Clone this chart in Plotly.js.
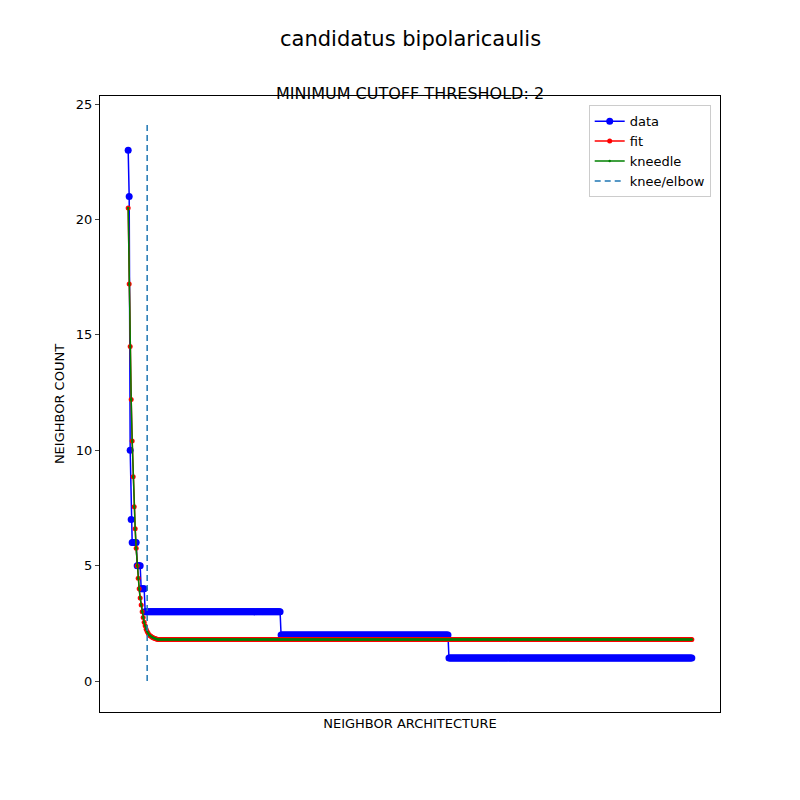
<!DOCTYPE html>
<html>
<head>
<meta charset="utf-8">
<script src="https://cdn.plot.ly/plotly-3.0.1.min.js"></script>
<style>html,body{margin:0;padding:0;background:#fff}#plot{width:800px;height:800px}</style>
</head>
<body>
<div id="plot"></div>
<script>
// ----- data (run-length: value, count) -----
const dataLevels = [23, 21, 10, 7, 6, 5, 4, 3, 2, 1];
const dataCounts = [1, 1, 1, 1, 5, 4, 4, 136, 168, 244];

const fitHead = [20.5, 17.2, 14.5, 12.2, 10.4, 8.85, 7.55, 6.6, 5.75, 5.0,
                 4.45, 4.0, 3.6, 3.3, 3.0, 2.75, 2.55, 2.4, 2.25, 2.15,
                 2.07, 2.0, 1.96, 1.93, 1.9, 1.88, 1.86, 1.84, 1.82, 1.81];
const fitPlateau = 1.8;

const kneeX = 19;
const kneeY = [0, 24.1];

// ----- build series -----
const dataY = [];
dataLevels.forEach((v, i) => { for (let k = 0; k < dataCounts[i]; k++) dataY.push(v); });
const N = dataY.length;
const xs = dataY.map((_, i) => i);
const fitY = fitHead.slice();
while (fitY.length < N) fitY.push(fitPlateau);

const traces = [
  { name: "data", x: xs, y: dataY, mode: "lines+markers",
    line: { color: "#0000ff", width: 1.5 }, marker: { color: "#0000ff", size: 7 } },
  { name: "fit", x: xs, y: fitY, mode: "lines+markers",
    line: { color: "#ff0000", width: 1.5 }, marker: { color: "#ff0000", size: 5 } },
  { name: "kneedle", x: xs, y: fitY, mode: "lines+markers",
    line: { color: "#008000", width: 1.5 }, marker: { color: "#008000", size: 2.5 } },
  { name: "knee/elbow", x: [kneeX, kneeX], y: kneeY, mode: "lines",
    line: { color: "#1f77b4", width: 1.5, dash: "6px,4px" } }
];

const pad = (N - 1) * 0.05;
const layout = {
  width: 800, height: 800,
  margin: { l: 100, r: 80, t: 96, b: 88 },
  paper_bgcolor: "#fff", plot_bgcolor: "#fff",
  font: { family: "DejaVu Sans", size: 13, color: "#000" },
  showlegend: true,
  legend: { x: 0.985, y: 0.985, xanchor: "right", yanchor: "top",
            bordercolor: "#cccccc", borderwidth: 1, bgcolor: "rgba(255,255,255,0.8)",
            font: { size: 13 } },
  xaxis: { range: [-pad, N - 1 + pad], showticklabels: false, ticks: "",
           showgrid: false, zeroline: false, showline: true, mirror: true,
           linecolor: "#000", linewidth: 1,
           title: { text: "NEIGHBOR ARCHITECTURE", font: { size: 13 }, standoff: 6 } },
  yaxis: { range: [-1.34, 25.35], tickvals: [0, 5, 10, 15, 20, 25], ticks: "outside",
           ticklen: 4, showgrid: false, zeroline: false, showline: true, mirror: true,
           linecolor: "#000", linewidth: 1,
           title: { text: "NEIGHBOR COUNT", font: { size: 13 } } },
  annotations: [
    { text: "candidatus bipolaricaulis", xref: "paper", yref: "paper", x: 0.5,
      y: 1, yshift: 71, showarrow: false, font: { size: 21 } },
    { text: "MINIMUM CUTOFF THRESHOLD: 2", xref: "paper", yref: "paper", x: 0.5,
      y: 1, yshift: 14, showarrow: false, font: { size: 16 } }
  ]
};

Plotly.newPlot("plot", traces, layout, { displayModeBar: false });
</script>
</body>
</html>
